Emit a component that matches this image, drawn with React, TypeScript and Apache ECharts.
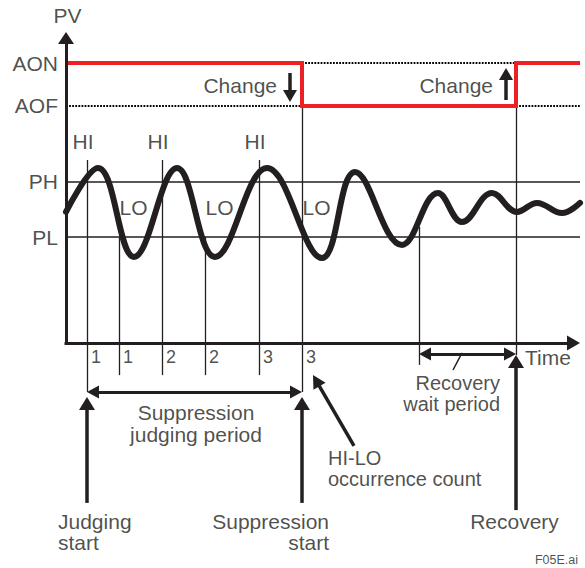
import React, { useEffect, useRef } from "react";
import * as echarts from "echarts";

// ---------- values (time units / PV units) ----------
const levelNames = ["AON", "AOF", "PH", "PL"];
const levelValues = [93.3, 79, 53.7, 35.3];

const waveTime = [0, 6.4, 13.6, 22.2, 29.8, 40.2, 51.2, 57.8, 67.2, 74.4, 79.2, 85.2, 90.2, 94.2, 99.2, 102.8];
const wavePV = [43.7, 58.3, 28.7, 58.3, 28.7, 58.3, 28.3, 57, 32.7, 50, 40.3, 50, 43.7, 46.7, 43.3, 46.7];

const hiTimes = [4.2, 19.2, 38.6];
const loTimes = [10.6, 27.8, 47.2];
const countLabels = ["1", "1", "2", "2", "3", "3"];
const judgingStart = 4.2;
const suppressionStart = 47.2;
const recoveryWaitStart = 70.6;
const recoveryTime = 90;
const timeEnd = 102.8;
const pvEnd = 103.7;

// ---------- layout / style constants ----------
const W = 585;
const H = 568;
const X_MIN = -13.2;
const X_MAX = 103.8;
const Y_MIN = -75;
const Y_MAX = 114.333;
const PX_T = W / (X_MAX - X_MIN);
const PX_PV = H / (Y_MAX - Y_MIN);
const INK = "#231f20";
const RED = "#ed2024";
const FONT = "'Liberation Sans', Arial, Helvetica, sans-serif";

const [AON, AOF, PH, PL] = levelValues;

type P = [number, number];

const seg = (a: P, b: P, style: any) => [
  { coord: a, lineStyle: style, symbol: "none" },
  { coord: b, symbol: "none" },
];

const K = 4;
function arrow(from: P, to: P, head: [number, number], width: number, both = false) {
  const dx = (to[0] - from[0]) * PX_T;
  const dy = -(to[1] - from[1]) * PX_PV;
  const len = Math.hypot(dx, dy);
  const ux = dx / len;
  const uy = dy / len;
  const back = (p: P, s: number): P => [p[0] - (s * ux * K) / PX_T, p[1] + (s * uy * K) / PX_PV];
  const end = back(to, 1);
  const start = both ? back(from, -1) : from;
  const sym = { symbol: "triangle", symbolSize: head, symbolOffset: [0, head[1] / 2 - K] };
  return [
    { coord: start, lineStyle: { color: INK, width, type: "solid" }, ...(both ? sym : { symbol: "none" }) },
    { coord: end, ...sym },
  ];
}

const lbl = (t: number, pv: number, text: string, align = "center", size = 21, lh = 21) => ({
  value: [t, pv],
  label: {
    show: true,
    position: "inside",
    formatter: text,
    align,
    verticalAlign: "middle",
    fontSize: size,
    lineHeight: lh,
    color: INK,
    fontFamily: FONT,
  },
});

export default function App() {
  const ref = useRef<HTMLDivElement>(null);

  useEffect(() => {
    if (!ref.current) return;
    const chart = echarts.init(ref.current, undefined, { renderer: "svg" });

    const thin = { color: INK, width: 1.3, type: "solid" };
    const level = { color: INK, width: 1.6, type: "solid" };
    const dotted = { color: "#000", width: 2.2, type: [1.8, 1.3] };

    const changeDownX = suppressionStart - 2.4;
    const changeUpX = recoveryTime - 2.0;

    const thinLines = [
      seg([0, PH], [timeEnd, PH], level),
      seg([0, PL], [timeEnd, PL], level),
      seg([0, AOF], [suppressionStart, AOF], dotted),
      seg([recoveryTime, AOF], [timeEnd, AOF], dotted),
      seg([suppressionStart, AON], [recoveryTime, AON], dotted),
      seg([hiTimes[0], 61], [hiTimes[0], -16.3], thin),
      seg([hiTimes[1], 61], [hiTimes[1], -10.7], thin),
      seg([hiTimes[2], 61], [hiTimes[2], -10.7], thin),
      seg([loTimes[0], PL], [loTimes[0], -10.7], thin),
      seg([loTimes[1], PL], [loTimes[1], -10.7], thin),
      seg([loTimes[2], AOF], [loTimes[2], -16.3], thin),
      seg([recoveryWaitStart, 38.7], [recoveryWaitStart, -7.3], thin),
      seg([recoveryTime, AON], [recoveryTime, -4], thin),
      seg([79.2, -3.3], [77.4, -9], { color: INK, width: 1.5, type: "solid" }),
    ];

    const arrows = [
      arrow([0, -0.6], [0, pvEnd], [16, 12], 3),
      arrow([-0.3, 0], [timeEnd, 0], [15, 13], 3),
      arrow([judgingStart, -53.3], [judgingStart, -18], [16, 13], 3.5),
      arrow([suppressionStart, -53.3], [suppressionStart, -18], [16, 13], 3.5),
      arrow([recoveryTime, -55.7], [recoveryTime, -4], [16, 13], 3.5),
      arrow([57.6, -34.3], [49.4, -10.7], [14, 13], 3.5),
      arrow([judgingStart, -16.3], [suppressionStart, -16.3], [13, 12], 3, true),
      arrow([recoveryWaitStart, -3.7], [recoveryTime, -3.7], [13, 12], 3, true),
      arrow([changeDownX, 90], [changeDownX, 80.3], [14, 12], 3.5),
      arrow([changeUpX, 81], [changeUpX, 91.7], [14, 12], 3.5),
    ];

    const countTimes = [hiTimes[0], loTimes[0], hiTimes[1], loTimes[1], hiTimes[2], loTimes[2]];

    const labels = [
      lbl(0.3, 109.3, "PV"),
      ...levelNames.map((n, i) => lbl(-1.6, levelValues[i], n, "right")),
      ...hiTimes.map((t) => lbl(t - 0.8, 67, "HI")),
      ...loTimes.map((t) => lbl(t + 0.1, 45.3, "LO", "left")),
      ...countTimes.map((t, i) => lbl(t + 0.8, -4.7, countLabels[i], "left", 18)),
      lbl(changeDownX - 2.6, 85.7, "Change", "right"),
      lbl(changeUpX - 2.6, 85.7, "Change", "right"),
      lbl(timeEnd - 11, -4.7, "Time", "left"),
      lbl((judgingStart + suppressionStart) / 2 + 0.3, -26.8, "Suppression\njudging period", "center", 21, 22),
      lbl(recoveryTime - 3.2, -16.7, "Recovery\nwait period", "right", 20, 21),
      lbl(suppressionStart + 5.2, -41.7, "HI-LO\noccurrence count", "left", 20, 21),
      lbl(judgingStart - 5.8, -63, "Judging\nstart", "left", 21, 21),
      lbl(suppressionStart + 5.4, -63, "Suppression\nstart", "right", 21, 21),
      lbl(recoveryTime - 0.3, -59.5, "Recovery"),
      lbl(102.4, -72.3, "F05E.ai", "right", 12.5, 13),
    ];

    const alarmData = [
      [0, AON],
      [suppressionStart, AON],
      [suppressionStart, AOF],
      [recoveryTime, AOF],
      [recoveryTime, AON],
      [timeEnd, AON],
    ];

    const markBase = {
      silent: true,
      symbol: ["none", "none"],
      label: { show: false },
      emphasis: { disabled: true },
      animation: false,
    };

    chart.setOption({
      animation: false,
      grid: { left: 0, right: 0, top: 0, bottom: 0, containLabel: false },
      xAxis: { type: "value", min: X_MIN, max: X_MAX, show: false },
      yAxis: { type: "value", min: Y_MIN, max: Y_MAX, show: false },
      series: [
        {
          name: "Reference lines",
          type: "line",
          data: [],
          silent: true,
          z: 1,
          markLine: { ...markBase, z: 1, data: thinLines },
        },
        {
          name: "Alarm output",
          type: "line",
          data: alarmData,
          symbol: "none",
          silent: true,
          z: 6,
          lineStyle: { color: RED, width: 4, join: "miter", cap: "butt" },
        },
        {
          name: "PV",
          type: "line",
          data: waveTime.map((t, i) => [t, wavePV[i]]),
          symbol: "none",
          smooth: 0.4,
          silent: true,
          z: 7,
          lineStyle: { color: INK, width: 6, cap: "round", join: "round" },
        },
        {
          name: "Arrows",
          type: "line",
          data: [],
          silent: true,
          z: 8,
          markLine: { ...markBase, z: 8, data: arrows, itemStyle: { color: INK } },
        },
        {
          name: "Labels",
          type: "scatter",
          data: labels,
          symbolSize: 1,
          silent: true,
          z: 9,
          itemStyle: { color: "rgba(0,0,0,0)" },
        },
      ],
    });

    return () => chart.dispose();
  }, []);

  return (
    <div
      ref={ref}
      style={{ position: "absolute", left: 0, top: 0, width: W, height: H, background: "#fff" }}
    />
  );
}
